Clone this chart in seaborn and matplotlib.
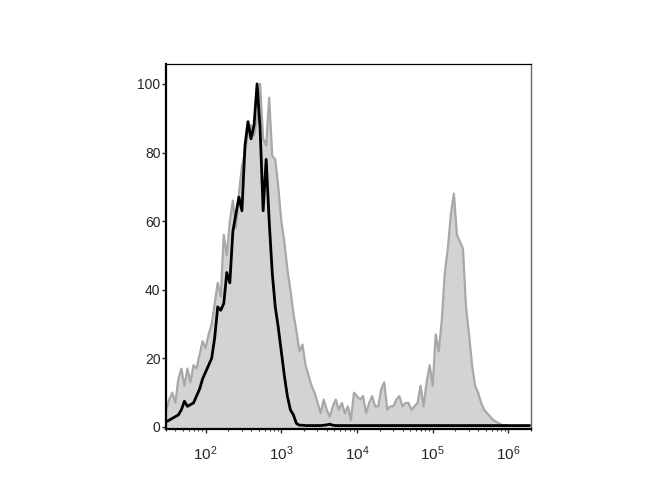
import numpy as np
import pandas as pd
import matplotlib
matplotlib.use("Agg")
import matplotlib.pyplot as plt
import matplotlib.ticker as ticker
import seaborn as sns

# log10 channel positions (bin centres) of the histogram
log_lo = 1.48
log_hi = 6.28

# stained sample (grey filled histogram), % of max, one value per bin
stained = [
    5, 8, 10, 7, 14, 17, 12, 17, 13, 18,
    17, 21, 25, 23, 27, 30, 36, 42, 38, 56,
    50, 60, 66, 58, 68, 76, 80, 86, 88, 85,
    90, 100, 84, 82, 96, 79, 78, 70, 60, 54,
    46, 40, 33, 28, 22, 24, 18, 15, 12, 10,
    7, 4, 8, 5, 3, 6, 8, 5, 7, 4,
    6, 2, 10, 9, 8, 9, 4, 7, 9, 6,
    6, 11, 13, 5, 6, 6, 8, 9, 6, 7,
    7, 5, 6, 7, 12, 6, 13, 18, 12, 27,
    22, 31, 45, 52, 62, 68, 56, 54, 52, 35,
    27, 18, 12, 10, 7, 5, 4, 3, 2, 1.5,
    1, 0.5, 0.5, 0.3, 0.3, 0.3, 0.3, 0.3, 0.3, 0.3, 0.5,
]

# unstained / isotype control (black line)
control = [
    1.5, 2, 2.5, 3, 3.5, 5, 7.5, 6, 6.5, 7,
    9, 11, 14, 16, 18, 20, 26, 35, 34, 36,
    45, 42, 57, 62, 67, 63, 82, 89, 84, 88,
    100, 87, 63, 78, 60, 45, 35, 29, 22, 15,
    9, 5, 3.5, 1, 0.5, 0.5, 0.4, 0.4, 0.4, 0.4,
    0.4, 0.4, 0.5, 0.6, 0.8, 0.5, 0.4, 0.4, 0.4, 0.4,
    0.4, 0.4, 0.4, 0.4, 0.4, 0.4, 0.4, 0.4, 0.4, 0.4,
    0.4, 0.4, 0.4, 0.4, 0.4, 0.4, 0.4, 0.4, 0.4, 0.4,
    0.4, 0.4, 0.4, 0.4, 0.4, 0.4, 0.4, 0.4, 0.4, 0.4,
    0.4, 0.4, 0.4, 0.4, 0.4, 0.4, 0.4, 0.4, 0.4, 0.4,
    0.4, 0.4, 0.4, 0.4, 0.4, 0.4, 0.4, 0.4, 0.4, 0.4,
    0.4, 0.4, 0.4, 0.4, 0.4, 0.4, 0.4, 0.4, 0.4, 0.4, 0.4,
]

y_ticks = [0, 20, 40, 60, 80, 100]
x_ticks = [1e2, 1e3, 1e4, 1e5, 1e6]


def main():
    sns.set_style("ticks")
    plt.rcParams["font.family"] = ["Liberation Sans", "DejaVu Sans"]

    df = pd.DataFrame({
        "x": 10 ** np.linspace(log_lo, log_hi, len(stained)),
        "stained": stained,
        "control": control,
    })

    fig = plt.figure(figsize=(6.7, 5.0), dpi=100)
    ax = fig.add_axes([0.2478, 0.142, 0.545, 0.730])

    ax.fill_between(df["x"], df["stained"], -5, color="#d3d3d3", lw=0, zorder=1)
    sns.lineplot(data=df, x="x", y="stained", ax=ax, color="#a8a8a8", lw=1.6, zorder=2)
    sns.lineplot(data=df, x="x", y="control", ax=ax, color="black", lw=2.0, zorder=3)

    ax.set_xscale("log")
    ax.set_xlim(30, 2.0e6)
    ax.set_ylim(-0.6, 105.8)
    ax.set_xticks(x_ticks)
    ax.xaxis.set_major_formatter(ticker.LogFormatterMathtext())
    ax.xaxis.set_minor_locator(ticker.LogLocator(base=10, subs=np.arange(2, 10)))
    ax.xaxis.set_minor_formatter(ticker.NullFormatter())
    ax.set_yticks(y_ticks)
    ax.set_xlabel("")
    ax.set_ylabel("")

    ax.tick_params(axis="x", which="major", length=3, width=1, pad=8, labelsize=11)
    ax.tick_params(axis="x", which="minor", length=1.5, width=0.8)
    ax.tick_params(axis="y", length=3, width=1, pad=1, labelsize=10)

    for side in ["left", "bottom"]:
        ax.spines[side].set_linewidth(1.6)
        ax.spines[side].set_color("black")
    ax.spines["top"].set_linewidth(0.9)
    ax.spines["top"].set_color("black")
    ax.spines["right"].set_linewidth(1.0)
    ax.spines["right"].set_color("#666666")

    fig.savefig("out.png", dpi=100)
    plt.close(fig)


if __name__ == "__main__":
    main()
